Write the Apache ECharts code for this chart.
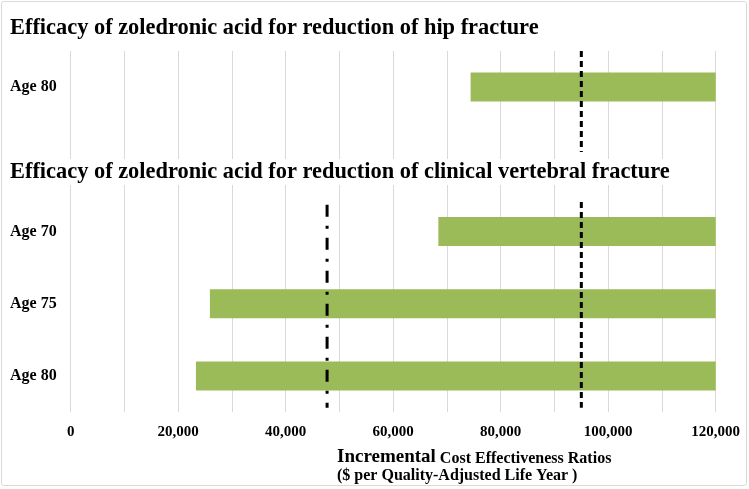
<!DOCTYPE html>
<html>
<head>
<meta charset="utf-8">
<style>
  html, body { margin: 0; padding: 0; background: #fff; }
  #chart { width: 749px; height: 489px; }
</style>
<script src="https://cdn.jsdelivr.net/npm/echarts@6/dist/echarts.min.js"></script>
</head>
<body>
<div id="chart"></div>
<script>
// ---- data ----
var categories = ['Age 80', ' ', 'Age 70', 'Age 75', 'Age 80'];
var barStart = [74400, null, 68400, 25900, 23300];
var barEnd = [120000, null, 120000, 120000, 120000];
var xTickLabels = ['0', '20,000', '40,000', '60,000', '80,000', '100,000', '120,000'];
// reference lines: x value, from, to (in category-row units)
var dashedLine = [[95000, 0, 1.40], [95000, 2.09, 4.94]];
var dashDotLine = [[47700, 2.13, 4.94]];
var titles = [
  'Efficacy of zoledronic acid for reduction of hip fracture',
  'Efficacy of zoledronic acid for reduction of clinical vertebral fracture'
];

var FONT = '"Liberation Serif", "Times New Roman", serif';
var barLength = barStart.map(function (s, i) { return s == null ? null : barEnd[i] - s; });

function lineRenderer(dash) {
  return function (params, api) {
    var p0 = api.coord([api.value(0), api.value(1)]);
    var p1 = api.coord([api.value(0), api.value(2)]);
    return {
      type: 'line',
      shape: { x1: p0[0], y1: p0[1], x2: p1[0], y2: p1[1] },
      style: { stroke: '#000', lineWidth: 3, lineDash: dash, fill: null }
    };
  };
}

var chart = echarts.init(document.getElementById('chart'));
chart.setOption({
  animation: false,
  backgroundColor: '#fff',
  graphic: [{
    type: 'rect',
    shape: { x: 1.5, y: 1.5, width: 745, height: 484, r: 2 },
    style: { fill: null, stroke: '#d9d9d9', lineWidth: 1 },
    z: 0
  }],
  title: [
    { text: titles[0], left: 10, top: 17, padding: 0,
      textStyle: { fontFamily: FONT, fontWeight: 'bold', fontSize: 22.4, color: '#000' } },
    { text: titles[1], left: 8, top: 159, padding: [2, 2, 2, 2], backgroundColor: '#fff', z: 10,
      textStyle: { fontFamily: FONT, fontWeight: 'bold', fontSize: 22.4, color: '#000' } },
    { text: '{big|Incremental}{small| Cost Effectiveness Ratios}\n{small|($ per Quality-Adjusted Life Year )}',
      left: 337, top: 448, padding: 0,
      textStyle: {
        fontFamily: FONT, fontWeight: 'bold', color: '#000',
        rich: {
          big: { fontFamily: FONT, fontWeight: 'bold', fontSize: 19, color: '#000', lineHeight: 19, verticalAlign: 'bottom' },
          small: { fontFamily: FONT, fontWeight: 'bold', fontSize: 16, color: '#000', lineHeight: 17, verticalAlign: 'bottom' }
        }
      } }
  ],
  grid: { left: 70.7, right: 33.3, top: 51, bottom: 77, containLabel: false },
  xAxis: {
    type: 'value', min: 0, max: 120000, interval: 10000,
    axisLine: { show: false }, axisTick: { show: false },
    splitLine: { show: true, lineStyle: { color: '#d9d9d9', width: 1 } },
    axisLabel: {
      margin: 13, fontFamily: FONT, fontWeight: 'bold', fontSize: 15, color: '#000',
      formatter: function (v) { return v % 20000 === 0 ? xTickLabels[v / 20000] : ''; }
    }
  },
  yAxis: [{
    type: 'category', data: categories, inverse: true,
    axisLine: { show: false }, axisTick: { show: false }, splitLine: { show: false },
    axisLabel: { align: 'left', margin: 60.7, fontFamily: FONT, fontWeight: 'bold', fontSize: 16, color: '#000' }
  }, {
    type: 'value', min: 0, max: 5, inverse: true, show: false
  }],
  series: [
    { type: 'bar', stack: 'range', data: barStart, barWidth: 29, silent: true,
      itemStyle: { color: 'rgba(0,0,0,0)' } },
    { type: 'bar', stack: 'range', data: barLength, barWidth: 29, silent: true,
      itemStyle: { color: '#9BBB59' } },
    { type: 'custom', yAxisIndex: 1, data: dashedLine, renderItem: lineRenderer([6, 4]), z: 5, silent: true },
    { type: 'custom', yAxisIndex: 1, data: dashDotLine, renderItem: lineRenderer([12, 9, 3, 9]), z: 5, silent: true }
  ]
});
</script>
</body>
</html>
